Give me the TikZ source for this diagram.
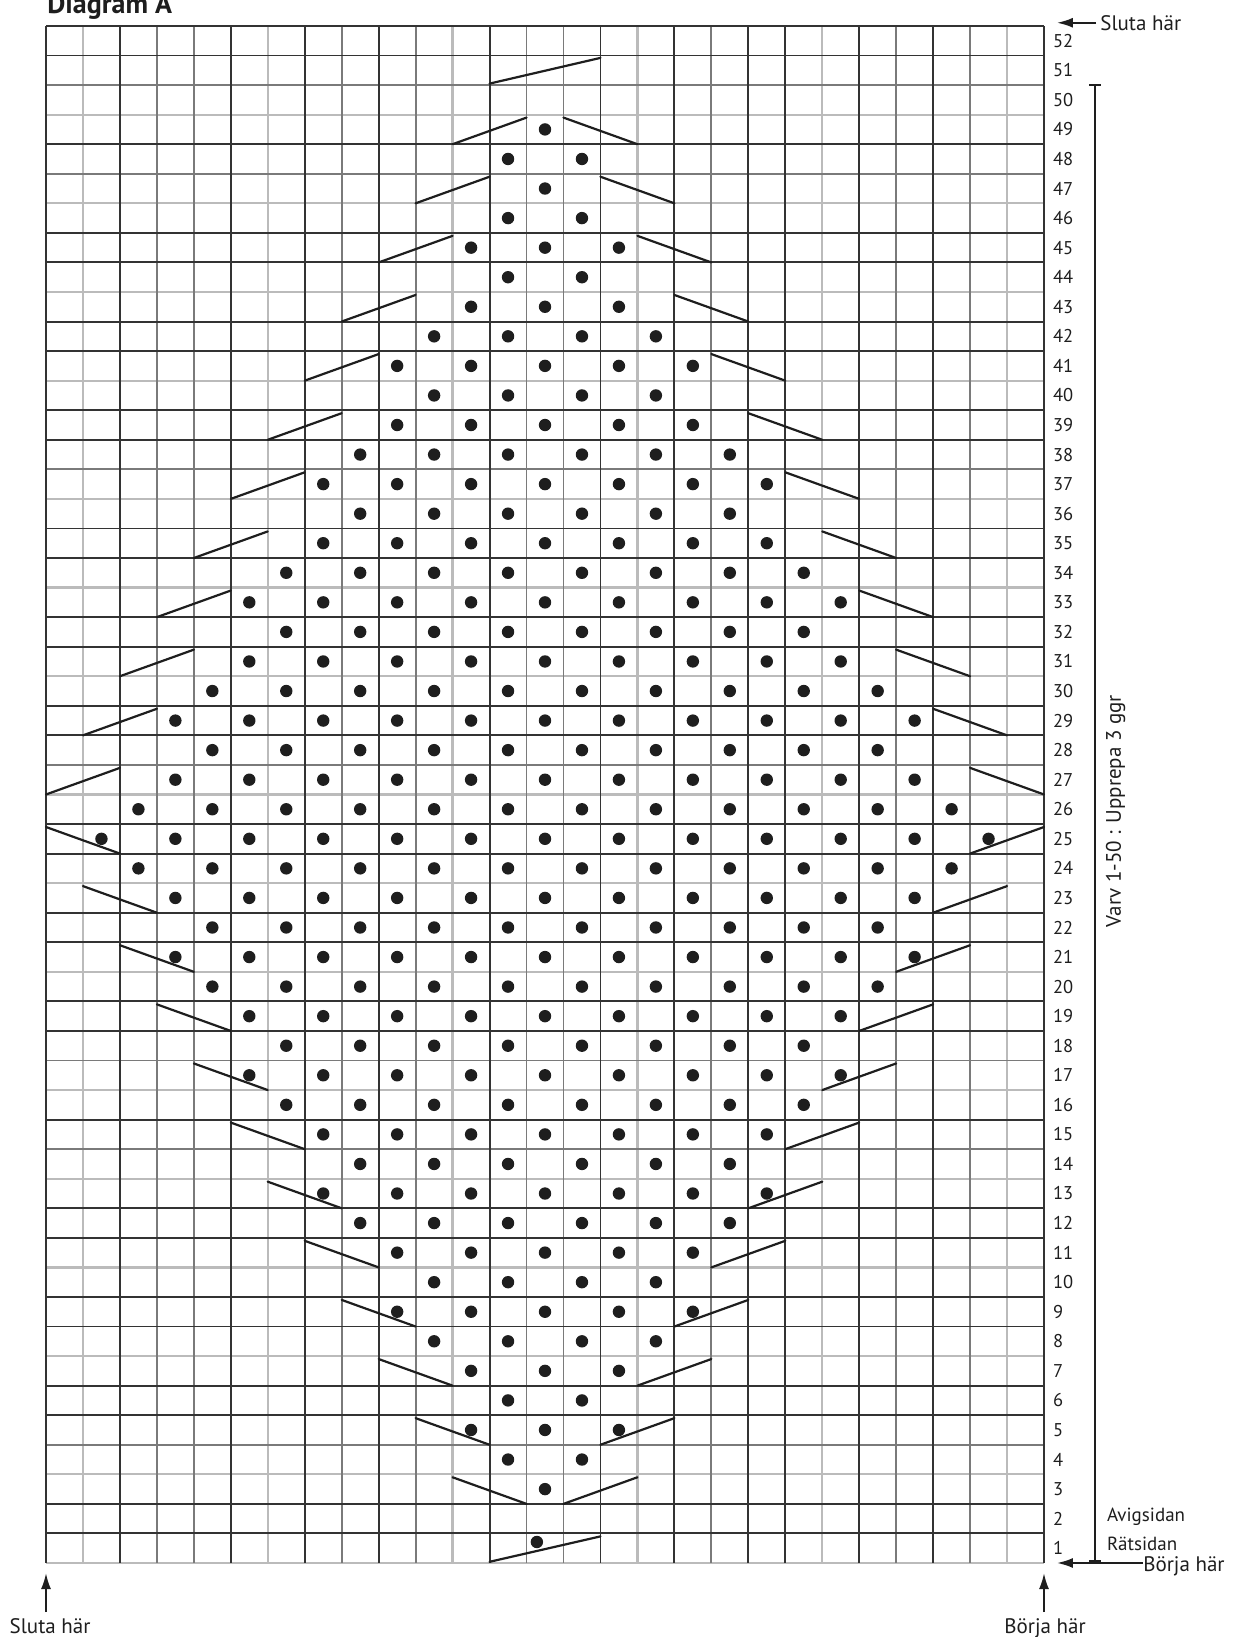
\documentclass[tikz,border=0pt]{standalone}
\usepackage{fontspec}
\setmainfont{PT Sans}
\usetikzlibrary{arrows.meta}
\definecolor{gD}{HTML}{333333}
\definecolor{gM}{HTML}{7A7A7A}
\definecolor{gL}{HTML}{BBBBBB}
\definecolor{ink}{HTML}{1E1E1E}
\tikzset{
  gridD/.style={draw=gD, line width=1.9pt},
  gridM/.style={draw=gM, line width=1.9pt},
  gridL/.style={draw=gL, line width=2.2pt},
  twist/.style={draw=ink, line width=2.2pt, line cap=round},
  dotmark/.style={fill=ink},
  rownum/.style={anchor=west, inner sep=0pt, font=\fontsize{18.5}{20}\selectfont, text=ink},
  caption/.style={inner sep=0pt, font=\fontsize{21}{24}\selectfont, text=ink},
  sidelabel/.style={anchor=base west, inner sep=0pt, font=\fontsize{19}{22}\selectfont, text=ink},
  pointer/.style={-{Latex[length=16pt,width=10pt]}, line width=2pt, draw=ink},
  bracketline/.style={draw=ink, line width=2pt},
}
\begin{document}
\begin{tikzpicture}[x=36.963pt, y=29.558pt]
\useasboundingbox (-1.2445,-2.5036) rectangle (32.0864,52.8791);
\fill[white] (-1.2445,-2.5036) rectangle (32.0864,52.8791);

% grid: light, then mid, then dark lines
\foreach \j in {0,3,7,10,13,16,20,23,26,30,33,36,40,43,46,49} \draw[gridL] (0,\j) -- (27,\j);
\foreach \i in {1,6,11,16,21,26} \draw[gridL] (\i,0) -- (\i,52);
\foreach \j in {4,14,17,27,37,47,50} \draw[gridM] (0,\j) -- (27,\j);
\foreach \i in {3,4,8,10,13,14,18,23,25} \draw[gridM] (\i,0) -- (\i,52);
\foreach \j in {1,2,5,6,8,9,11,12,15,18,19,21,22,24,25,28,29,31,32,34,35,38,39,41,42,44,45,48,51,52} \draw[gridD] (0,\j) -- (27,\j);
\foreach \i in {0,2,5,7,9,12,15,17,19,20,22,24,27} \draw[gridD] (\i,0) -- (\i,52);

% twisted-stitch lines
\draw[twist] (12,0.04) -- (15,0.9);
\draw[twist] (12,50.05) -- (15,50.92);
\foreach \k in {1,...,12} {
  \pgfmathtruncatemacro\r{2*\k+1}
  \draw[twist] (12-\k,\r-0.1) -- (14-\k,\r-1);
  \draw[twist] (13+\k,\r-1) -- (15+\k,\r-0.1);
}
\foreach \k in {1,...,12} {
  \pgfmathtruncatemacro\r{2*\k+25}
  \draw[twist] (\k-1,\r-1) -- (\k+1,\r-0.1);
  \draw[twist] (26-\k,\r-0.1) -- (28-\k,\r-1);
}

% purl dots
\fill[dotmark] (13.28,0.71) circle[radius=6.2pt];
\foreach \r/\h in {3/0,4/1,5/2,6/1,7/2,8/3,9/4,10/3,11/4,12/5,13/6,14/5,15/6,16/7,17/8,18/7,19/8,20/9,21/10,22/9,23/10,24/11,25/12,26/11,27/10,28/9,29/10,30/9,31/8,32/7,33/8,34/7,35/6,36/5,37/6,38/5,39/4,40/3,41/4,42/3,43/2,44/1,45/2,46/1,47/0,48/1,49/0}
  \foreach \i in {0,...,\h} \fill[dotmark] (13.5-\h+2*\i,\r-0.5) circle[radius=6.2pt];

% row numbers
\foreach \r in {1,...,52} \node[rownum] (n\r) at (27.24,\r-0.5) {\r};

% repeat bracket
\coordinate (brTop) at (28.38,50);
\coordinate (brBot) at (28.38,0);
\draw[bracketline] (brTop) -- (brBot);
\draw[bracketline] ([xshift=-6pt]brTop) -- ([xshift=6pt]brTop);
\draw[bracketline, line width=3.2pt] ([xshift=-6pt,yshift=1pt]brBot) -- ([xshift=6pt,yshift=1pt]brBot);
\node[caption, rotate=90, anchor=base] (repeat) at (29.08,25.44) {Varv 1-50 : Upprepa 3 ggr};

% side labels
\node[sidelabel] (avig) at (28.70,1.42) {Avigsidan};
\node[sidelabel] (rat) at (28.70,0.41) {Rätsidan};

% start / stop markers on the right
\node[caption, anchor=base west] (slutaTop) at (28.52,51.86) {Sluta här};
\coordinate (slutaTopTip) at (27.35,52.07);
\draw[pointer] ([xshift=-4pt]slutaTop.west) -- (slutaTop.west -| slutaTopTip);

\node[caption, anchor=base west] (borjaRight) at (29.68,-0.30) {Börja här};
\coordinate (borjaRightTip) at (27.35,0);
\draw[pointer] (borjaRight.west |- brBot) -- (borjaRightTip);

% bottom markers
\coordinate (slutaBotBase) at (0,-1.66);
\coordinate (slutaBotTip) at (0,-0.34);
\draw[pointer] (slutaBotBase) -- (slutaBotTip);
\node[caption, anchor=base] (slutaBot) at (0.11,-2.40) {Sluta här};

\coordinate (borjaBotBase) at (27,-1.66);
\coordinate (borjaBotTip) at (27,-0.34);
\draw[pointer] (borjaBotBase) -- (borjaBotTip);
\node[caption, anchor=base] (borjaBot) at (27.03,-2.37) {Börja här};

% title
\node[anchor=base west, inner sep=0pt, font=\bfseries\fontsize{28}{30}\selectfont, text=ink] (title) at (0.03,52.43) {Diagram A};
\end{tikzpicture}
\end{document}
